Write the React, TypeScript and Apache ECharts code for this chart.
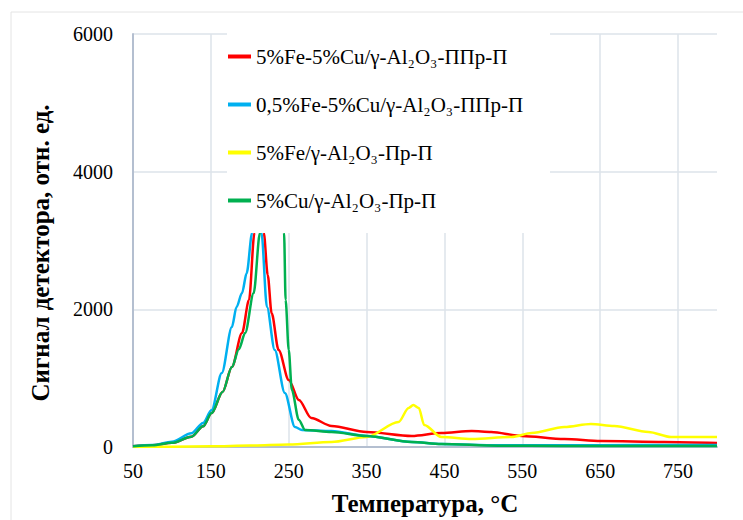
import React, { useEffect, useRef } from "react";
import * as echarts from "echarts";

const seriesNames = [
  "5%Fe-5%Cu/γ-Al₂O₃-ППр-П",
  "0,5%Fe-5%Cu/γ-Al₂O₃-ППр-П",
  "5%Fe/γ-Al₂O₃-Пр-П",
  "5%Cu/γ-Al₂O₃-Пр-П",
];
const seriesColors = ["#ff0000", "#00b0f0", "#ffff00", "#00b050"];

const redT = [50, 75, 100, 125, 140, 151, 165, 177, 190, 199, 206, 212, 218, 223, 228, 237, 250, 263, 279, 305, 350, 408, 446, 485, 510, 549, 604, 651, 732, 800];
const redV = [10, 25, 60, 150, 300, 494, 800, 1162, 1656, 2136, 3110, 3900, 3110, 2500, 1947, 1409, 973, 683, 421, 305, 218, 160, 203, 232, 218, 160, 116, 87, 73, 58];

const blueT = [50, 75, 100, 125, 140, 151, 164, 177, 183, 190, 196, 203, 209, 215, 222, 232, 245, 258, 267, 305, 350, 408, 446, 519, 600, 700, 800];
const blueV = [10, 30, 75, 200, 350, 537, 1075, 1744, 2034, 2237, 2528, 3110, 3900, 3110, 2034, 1409, 785, 290, 247, 232, 160, 73, 44, 25, 25, 28, 30];

const yellowT = [50, 100, 150, 200, 250, 305, 350, 391, 404, 410, 417, 424, 446, 485, 536, 562, 604, 638, 668, 712, 741, 800];
const yellowV = [0, 5, 10, 20, 35, 73, 145, 363, 567, 610, 567, 320, 145, 116, 145, 203, 290, 334, 305, 218, 145, 145];

const greenT = [50, 75, 100, 125, 140, 151, 165, 177, 186, 194, 205, 213, 222, 232, 240, 244, 246, 250, 254, 263, 271, 305, 350, 408, 446, 519, 600, 700, 800];
const greenV = [10, 25, 60, 150, 300, 494, 800, 1162, 1420, 1656, 2237, 3110, 4000, 4400, 4000, 3110, 2136, 1409, 828, 392, 247, 218, 160, 73, 44, 18, 15, 15, 15];

const xTickLabels = ["50", "150", "250", "350", "450", "550", "650", "750"];
const xMin = 50;
const xMax = 800;
const yMax = 6000;
const yStep = 2000;

const FONT = "Times New Roman";

function pairs(t: number[], v: number[]) {
  return t.map((x, i) => [x - xMin, v[i]]);
}

export default function App() {
  const ref = useRef<HTMLDivElement>(null);
  useEffect(() => {
    if (!ref.current) return;
    document.body.style.margin = "0";
    const chart = echarts.init(ref.current, null, { renderer: "svg" });
    const allData = [
      pairs(redT, redV),
      pairs(blueT, blueV),
      pairs(yellowT, yellowV),
      pairs(greenT, greenV),
    ];
    chart.setOption({
      animation: false,
      textStyle: { fontFamily: FONT },
      grid: { left: 133, top: 34, right: 26, bottom: 73 },
      xAxis: {
        type: "value",
        min: 0,
        max: xMax - xMin,
        interval: 100,
        axisLine: { show: true, lineStyle: { color: "#b4bfd0", width: 2 } },
        axisTick: { show: false },
        splitLine: { show: true, showMaxLine: false, lineStyle: { color: "#dde3ea", width: 1.5 } },
        axisLabel: {
          margin: 14,
          fontFamily: FONT,
          fontSize: 20,
          color: "#000",
          formatter: (v: number) => {
            const idx = Math.round(v / 100);
            return v % 100 === 0 && idx < xTickLabels.length ? xTickLabels[idx] : "";
          },
        },
      },
      yAxis: {
        type: "value",
        min: 0,
        max: yMax,
        interval: yStep,
        axisLine: { show: true, lineStyle: { color: "#b4bfd0", width: 2 } },
        axisTick: { show: false },
        splitLine: { show: true, lineStyle: { color: "#dde3ea", width: 1.5 } },
        axisLabel: {
          margin: 20,
          fontFamily: FONT,
          fontSize: 20,
          color: "#000",
          formatter: (v: number) => String(v),
        },
      },
      legend: {
        orient: "vertical",
        left: 228,
        top: 46,
        padding: 0,
        z: 20,
        icon: "rect",
        itemWidth: 23,
        itemHeight: 4,
        itemGap: 27,
        data: seriesNames,
        textStyle: { fontFamily: FONT, fontSize: 21, color: "#000" },
      },
      graphic: [
        {
          type: "rect",
          z: 10,
          silent: true,
          shape: { x: 227, y: 31, width: 323, height: 202 },
          style: { fill: "#ffffff" },
        },
        {
          type: "rect",
          z: 0,
          silent: true,
          shape: { x: 11, y: 12, width: 740, height: 520 },
          style: { fill: "none", stroke: "#e4e4e4", lineWidth: 1 },
        },
        {
          type: "text",
          x: 40,
          y: 253,
          rotation: Math.PI / 2,
          style: {
            text: "Сигнал детектора, отн. ед.",
            fontFamily: FONT,
            fontSize: 25,
            fontWeight: "bold",
            fill: "#000",
            align: "center",
            verticalAlign: "middle",
          },
        },
        {
          type: "text",
          x: 425,
          y: 503,
          style: {
            text: "Температура, °C",
            fontFamily: FONT,
            fontSize: 25,
            fontWeight: "bold",
            fill: "#000",
            align: "center",
            verticalAlign: "middle",
          },
        },
      ],
      series: allData.map((d, i) => ({
        type: "line",
        name: seriesNames[i],
        data: d,
        showSymbol: false,
        smooth: 0.3,
        smoothMonotone: "x",
        color: seriesColors[i],
        lineStyle: { color: seriesColors[i], width: 2.5 },
        z: 2,
      })),
    });
    return () => chart.dispose();
  }, []);
  return (
    <div style={{ fontFamily: FONT }}>
      <div ref={ref} style={{ width: 743, height: 520 }} />
    </div>
  );
}
